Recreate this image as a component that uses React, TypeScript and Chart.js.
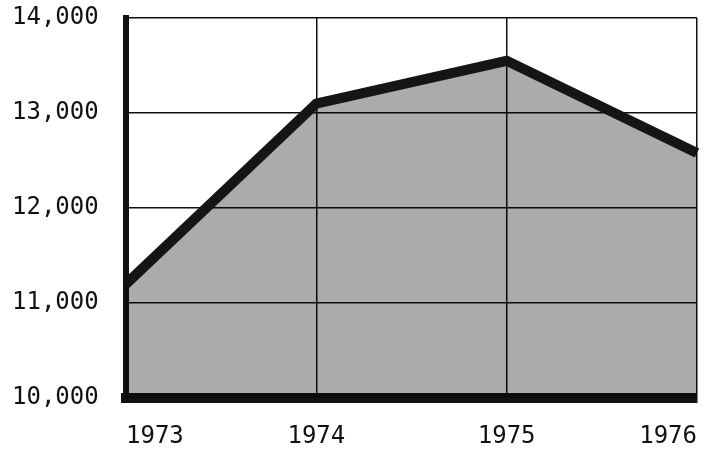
import React, { useEffect, useRef } from "react";
import { Chart, registerables } from "chart.js";

Chart.register(...registerables);

const years: string[] = ["1973", "1974", "1975", "1976"];
const values: number[] = [11200, 13100, 13550, 12580];
const yTicks: number[] = [10000, 11000, 12000, 13000, 14000];

export default function App() {
  const ref = useRef<HTMLCanvasElement | null>(null);

  useEffect(() => {
    document.body.style.margin = "0";
    const canvas = ref.current;
    if (!canvas) return;
    const font = { family: "'DejaVu Sans Mono', monospace", size: 24 };
    const chart = new Chart(canvas, {
      type: "line",
      data: {
        labels: years,
        datasets: [
          {
            data: values,
            borderColor: "#151515",
            borderWidth: 10,
            borderJoinStyle: "miter",
            backgroundColor: "rgba(0,0,0,0.33)",
            fill: "start",
            pointRadius: 0,
            tension: 0,
          },
        ],
      },
      options: {
        animation: false,
        responsive: false,
        maintainAspectRatio: false,
        layout: { padding: { left: 12, top: 18, right: 16, bottom: 0 } },
        plugins: { legend: { display: false }, tooltip: { enabled: false } },
        scales: {
          x: {
            type: "category",
            offset: false,
            grid: { color: "#111", lineWidth: 1.5, drawTicks: false },
            border: { color: "#111", width: 10 },
            ticks: {
              color: "#111",
              font,
              padding: 24,
              align: "inner",
              maxRotation: 0,
              autoSkip: false,
            },
            afterFit: (s: any) => {
              s.height = 59;
              s.paddingLeft = 0;
              s.paddingRight = 0;
            },
          },
          y: {
            min: 10000,
            max: 14000,
            afterBuildTicks: (s: any) => {
              s.ticks = yTicks.map((v) => ({ value: v }));
            },
            grid: { color: "#111", lineWidth: 1.5, drawTicks: false },
            border: { color: "#111", width: 6 },
            ticks: {
              color: "#111",
              font,
              crossAlign: "far",
              callback: (v: any) => Number(v).toLocaleString("en-US").replace(",", ","),
            },
            afterFit: (s: any) => {
              s.width = 114;
            },
          },
        },
      },
    });
    return () => chart.destroy();
  }, []);

  return <canvas ref={ref} width={713} height={457} style={{ display: "block" }} />;
}
